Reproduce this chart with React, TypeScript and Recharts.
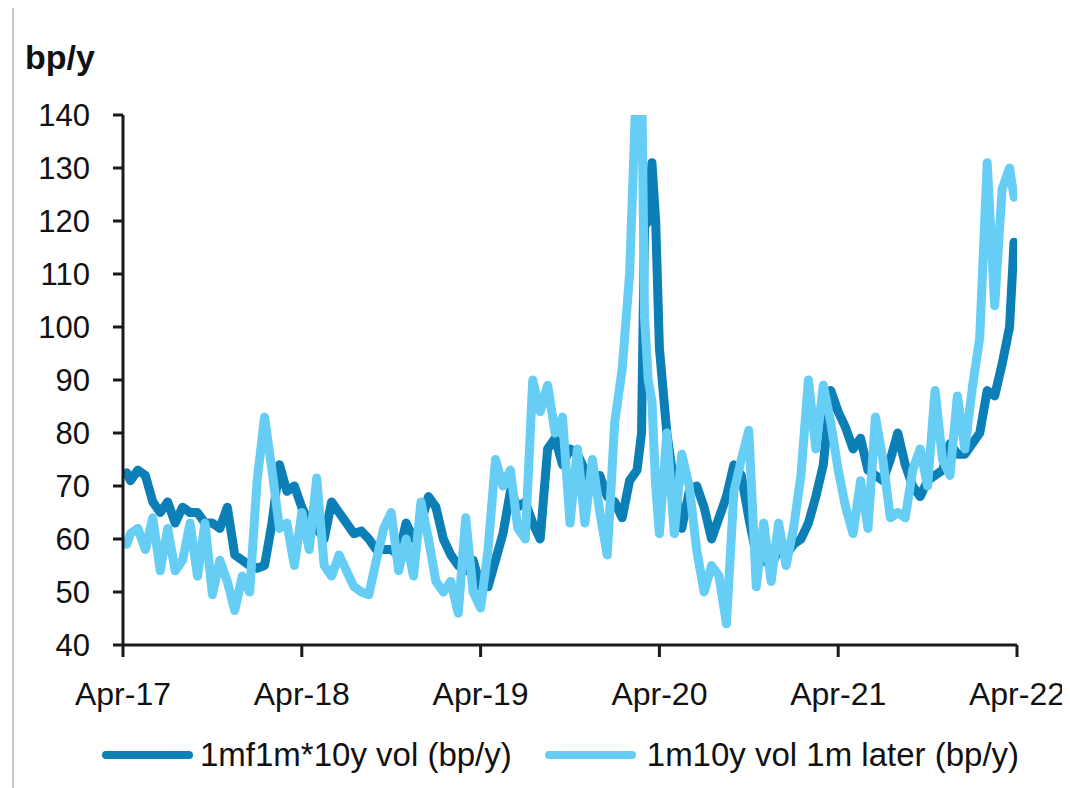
import React from 'react'
import { LineChart, Line, XAxis, YAxis } from 'recharts'

// months since Apr-17
const months = [
  0.25, 0.5, 1, 1.5, 2, 2.5, 3, 3.5, 4, 4.5, 5, 5.5, 6, 6.5, 7, 7.5, 8, 8.5, 9, 9.5,
  10, 10.5, 11, 11.5, 12, 12.5, 13, 13.5, 14, 14.5, 15, 15.5, 16, 16.5, 17, 17.5, 18, 18.5, 19, 19.5,
  20, 20.5, 21, 21.5, 22, 22.5, 23, 23.5, 24, 24.5, 25, 25.5, 26, 26.5, 27, 27.5, 28, 28.5, 29, 29.5,
  30, 30.5, 31, 31.5, 32, 32.5, 33, 33.5, 34, 34.5, 34.8, 35, 35.25, 35.5, 35.75, 36, 36.5, 37, 37.5, 38, 38.5, 39, 39.5,
  40, 40.5, 41, 41.5, 42, 42.5, 43, 43.5, 44, 44.5, 45, 45.5, 46, 46.5, 47, 47.5, 48, 48.5, 49, 49.5,
  50, 50.5, 51, 51.5, 52, 52.5, 53, 53.5, 54, 54.5, 55, 55.5, 56, 56.5, 57, 57.5, 58, 58.5, 59, 59.5, 59.8
]

const fwdVol = [
  72.5, 71, 73, 72, 67, 65, 67, 63, 66, 65, 65, 63, 63, 62, 66, 57, 56, 55, 54.5, 55,
  63, 74, 69, 70, 66, 63, 62, 60, 67, 65, 63, 61, 61.5, 60, 58, 58, 58, 57, 63, 60,
  63, 68, 66, 60, 57, 55, 54, 56, 51, 51, 56, 61, 69, 66, 67, 63, 60, 77, 79, 74,
  77, 76, 73, 70, 72, 68, 67, 64, 71, 73, 80, 119, 120, 131, 120, 96, 80, 70, 62, 69, 70, 66, 60,
  64, 68, 74, 72, 64, 57, 56, 55, 58, 57, 59, 60, 63, 68, 74, 88, 84, 81, 77, 79,
  73, 72, 71, 75, 80, 74, 70, 68, 71, 72, 73, 78, 76, 76, 78, 80, 88, 87, 93, 100, 116
]

const realVol = [
  59, 61, 62, 58, 64, 54, 62, 54, 56, 63, 53, 63, 49.5, 56, 52, 46.5, 53, 50, 71, 83,
  73, 62, 63, 55, 65, 58, 71.5, 55, 53, 57, 54, 51, 50, 49.5, 56, 62, 65, 54, 60, 53,
  67, 60, 52, 50, 52, 46, 64, 50, 47, 58, 75, 70, 73, 62, 60, 90, 84, 89, 80, 83,
  63, 77, 63, 75, 65, 57, 82, 92, 110, 150, 150, 102, 90, 86, 70, 61, 80, 61, 76, 70, 58, 50, 55,
  53, 44, 69, 75, 80.5, 51, 63, 52, 63, 55, 62, 72, 90, 77, 89, 82, 73, 66, 61, 71,
  62, 83, 75, 64, 65, 64, 73, 77, 70, 88, 75, 72, 87, 77, 88.5, 98, 131, 104, 126, 130, 124.5
]

const yTicks = [40, 50, 60, 70, 80, 90, 100, 110, 120, 130, 140]
const xTicks = [0, 12, 24, 36, 48, 60]
const xLabels = ['Apr-17', 'Apr-18', 'Apr-19', 'Apr-20', 'Apr-21', 'Apr-22']

const seriesNames = ['1mf1m*10y vol (bp/y)', '1m10y vol 1m later (bp/y)']
const colors = ['#0b7fb6', '#66cdf4']

const data = months.map((m, i) => ({ t: m, fwd: fwdVol[i], real: realVol[i] }))

const font = '"Liberation Sans", Arial, sans-serif'

export default function App() {
  return (
    <div style={{ position: 'relative', width: 1054, height: 780, fontFamily: font }}>
      <div style={{ position: 'absolute', left: 4, top: 0, width: 2, height: 780, background: '#c9c9c9' }} />
      <div style={{ position: 'absolute', left: 17, top: 30, fontSize: 34, fontWeight: 'bold', color: '#111' }}>bp/y</div>
      <LineChart width={1060} height={720} data={data} margin={{ top: 107, right: 51, left: 0, bottom: 0 }}>
        <XAxis
          dataKey="t"
          type="number"
          domain={[0, 60]}
          ticks={xTicks}
          tickFormatter={(v: number) => xLabels[xTicks.indexOf(v)]}
          height={83}
          stroke="#1a1a1a"
          strokeWidth={3}
          tickSize={12}
          tickMargin={25}
          tick={{ fill: '#111', fontSize: 32, fontFamily: font }}
          interval={0}
          allowDataOverflow
        />
        <YAxis
          type="number"
          domain={[40, 140]}
          ticks={yTicks}
          width={115}
          stroke="#1a1a1a"
          strokeWidth={3}
          tickSize={10}
          tickMargin={23}
          tick={{ fill: '#111', fontSize: 31, fontFamily: font }}
          allowDataOverflow
          interval={0}
        />
        <Line
          dataKey="fwd"
          type="linear"
          stroke={colors[0]}
          strokeWidth={9}
          strokeLinejoin="round"
          strokeLinecap="round"
          dot={false}
          isAnimationActive={false}
        />
        <Line
          dataKey="real"
          type="linear"
          stroke={colors[1]}
          strokeWidth={9}
          strokeLinejoin="round"
          strokeLinecap="round"
          dot={false}
          isAnimationActive={false}
        />
      </LineChart>
      <div style={{ position: 'absolute', left: 94, top: 728, display: 'flex', alignItems: 'center', fontSize: 33, color: '#111', whiteSpace: 'nowrap' }}>
        <span style={{ display: 'inline-block', width: 91, height: 8, borderRadius: 4, background: colors[0], marginRight: 7 }} />
        <span>{seriesNames[0]}</span>
        <span style={{ display: 'inline-block', width: 91, height: 8, borderRadius: 4, background: colors[1], marginLeft: 33, marginRight: 11 }} />
        <span>{seriesNames[1]}</span>
      </div>
    </div>
  )
}
